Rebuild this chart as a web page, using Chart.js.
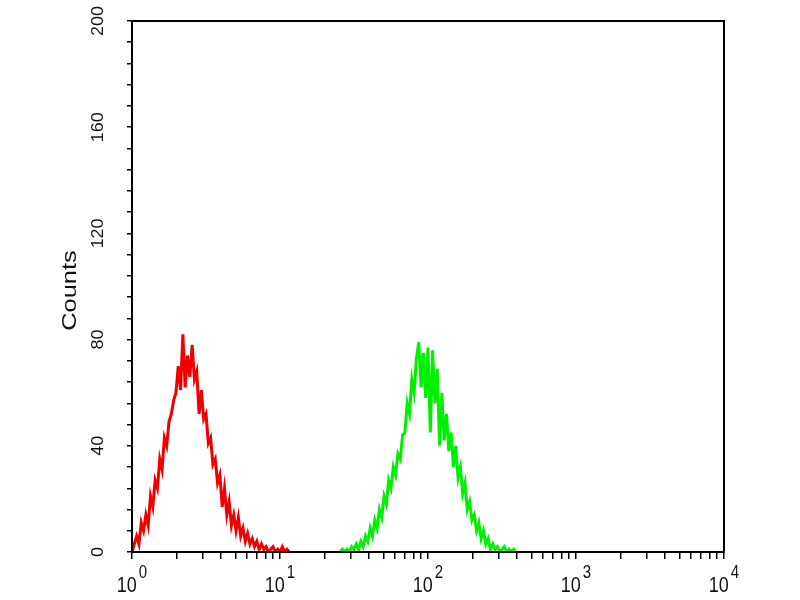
<!DOCTYPE html>
<html>
<head>
<meta charset="utf-8">
<script src="https://cdn.jsdelivr.net/npm/chart.js@4"></script>
<style>
  html, body { margin: 0; padding: 0; background: #fff; }
  #wrap { width: 800px; height: 600px; }
</style>
</head>
<body>
<div id="wrap"><canvas id="histo" width="800" height="600"></canvas></div>
<script>
// histogram bins: 64 bins per decade, bin i sits at 10^(i/64)
const binsPerDecade = 64;

// red histogram, starts at bin 0
const redStartBin = 0;
const redCounts = [
  0, 3, 6, 3, 11, 8, 14, 10, 21, 17,
  27, 24, 35, 31, 43, 40, 49, 52, 57, 60,
  70, 61, 82, 62, 74, 66, 78, 65, 68, 52,
  61, 50, 52, 41, 43, 33, 35, 26, 29, 17,
  24, 14, 19, 10, 14, 8, 13, 6, 9, 4,
  7, 3, 5, 2, 4, 1, 3, 1, 2, 0,
  1, 2, 0, 1, 0, 2, 0, 1, 0
];

// green histogram, starts at bin 90
const greenStartBin = 90;
const greenCounts = [
  0, 1, 0, 1, 0, 2, 1, 3, 1, 4,
  2, 6, 4, 9, 6, 12, 9, 16, 13, 21,
  18, 27, 24, 32, 29, 37, 35, 44, 45, 56,
  52, 65, 60, 73, 79, 62, 75, 58, 77, 45,
  76, 56, 69, 40, 60, 42, 52, 38, 45, 32,
  40, 28, 32, 22, 26, 16, 19, 12, 14, 8,
  11, 5, 8, 3, 5, 1, 3, 1, 2, 0,
  1, 2, 0, 1, 0, 1, 0
];

// axis labels
const xExponents = [0, 1, 2, 3, 4];
const xMinorSteps = [1, 2, 3, 4, 5, 6, 7, 8, 9];
const yLabels = [0, 40, 80, 120, 160, 200];
const yTitle = 'Counts';

function toPoints(startBin, counts) {
  return counts.map((c, k) => ({ x: Math.pow(10, (startBin + k) / binsPerDecade), y: c }));
}

const fontFamily = '"Liberation Sans", Arial, sans-serif';

// draws the frame and the 10^n / rotated labels the way the original plot does
const labelPlugin = {
  id: 'labelPlugin',
  afterDraw(chart) {
    const ctx = chart.ctx;
    const area = chart.chartArea;
    const xs = chart.scales.x;
    const ys = chart.scales.y;
    ctx.save();
    ctx.strokeStyle = '#000';
    ctx.lineWidth = 2;
    ctx.strokeRect(area.left, area.top, area.right - area.left, area.bottom - area.top);

    ctx.fillStyle = '#111';
    // y tick labels, rotated
    ctx.font = '16px ' + fontFamily;
    ctx.textAlign = 'center';
    ctx.textBaseline = 'middle';
    yLabels.forEach(v => {
      const py = ys.getPixelForValue(v);
      ctx.save();
      ctx.translate(99, py);
      ctx.rotate(-Math.PI / 2);
      ctx.scale(1.12, 1);
      ctx.fillText(String(v), 0, 0);
      ctx.restore();
    });

    // y title
    ctx.font = '20px ' + fontFamily;
    ctx.save();
    ctx.translate(70, (area.top + area.bottom) / 2 + 4);
    ctx.rotate(-Math.PI / 2);
    ctx.scale(1.27, 1);
    ctx.fillText(yTitle, 0, 0);
    ctx.restore();

    // x labels 10^n
    ctx.textAlign = 'left';
    ctx.textBaseline = 'alphabetic';
    xExponents.forEach(e => {
      const px = xs.getPixelForValue(Math.pow(10, e));
      ctx.font = '18px ' + fontFamily;
      const wBase = ctx.measureText('10').width;
      ctx.font = '15px ' + fontFamily;
      const wExp = ctx.measureText(String(e)).width;
      const start = px - (wBase + 2 + wExp) / 2;
      ctx.save();
      ctx.translate(start, 592);
      ctx.scale(1, 1.2);
      ctx.font = '18px ' + fontFamily;
      ctx.fillText('10', 0, 0);
      ctx.restore();
      ctx.save();
      ctx.translate(start + wBase + 2, 578);
      ctx.scale(1, 1.25);
      ctx.font = '15px ' + fontFamily;
      ctx.fillText(String(e), 0, 0);
      ctx.restore();
    });
    ctx.restore();
  }
};

const ctx = document.getElementById('histo').getContext('2d');
new Chart(ctx, {
  type: 'line',
  data: {
    datasets: [
      {
        label: 'red',
        data: toPoints(redStartBin, redCounts),
        borderColor: '#f00000',
        borderWidth: 3,
        pointRadius: 0,
        tension: 0,
        fill: false
      },
      {
        label: 'green',
        data: toPoints(greenStartBin, greenCounts),
        borderColor: '#00f000',
        borderWidth: 3,
        pointRadius: 0,
        tension: 0,
        fill: false
      }
    ]
  },
  options: {
    responsive: false,
    animation: false,
    layout: { padding: { left: 127, right: 76, top: 21, bottom: 41 } },
    plugins: {
      legend: { display: false },
      tooltip: { enabled: false }
    },
    scales: {
      x: {
        type: 'logarithmic',
        min: 1,
        max: 10000,
        afterBuildTicks(scale) {
          const ticks = [];
          xExponents.slice(0, -1).forEach(e => {
            xMinorSteps.forEach(m => ticks.push({ value: m * Math.pow(10, e) }));
          });
          ticks.push({ value: Math.pow(10, xExponents[xExponents.length - 1]) });
          scale.ticks = ticks;
        },
        ticks: { display: false },
        grid: { drawOnChartArea: false, drawTicks: true, tickLength: 7, color: '#000', lineWidth: 1.5 },
        border: { color: '#000', width: 2 }
      },
      y: {
        min: 0,
        max: 200,
        ticks: { display: false, stepSize: 8 },
        grid: { drawOnChartArea: false, drawTicks: true, tickLength: 5, color: '#000', lineWidth: 1.5 },
        border: { color: '#000', width: 2 }
      }
    }
  },
  plugins: [labelPlugin]
});
</script>
</body>
</html>
